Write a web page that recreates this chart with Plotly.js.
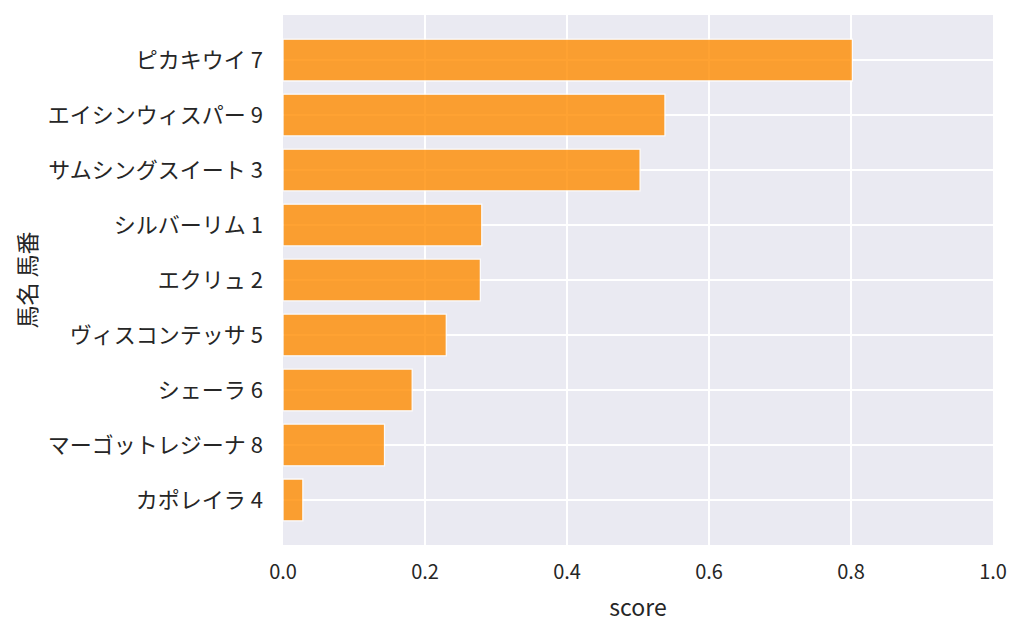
<!DOCTYPE html>
<html>
<head>
<meta charset="utf-8">
<script src="https://cdn.plot.ly/plotly-3.0.1.min.js"></script>
<style>html,body{margin:0;padding:0;background:#fff;}#chart{width:1024px;height:634px;}</style>
</head>
<body>
<div id="chart"></div>
<script>
const horseNames = ["ピカキウイ 7", "エイシンウィスパー 9", "サムシングスイート 3", "シルバーリム 1", "エクリュ 2", "ヴィスコンテッサ 5", "シェーラ 6", "マーゴットレジーナ 8", "カポレイラ 4"];
const scores = [0.802, 0.538, 0.503, 0.280, 0.278, 0.230, 0.182, 0.143, 0.028];
const xTickValues = [0, 0.2, 0.4, 0.6, 0.8, 1.0];
const xTickLabels = ["0.0", "0.2", "0.4", "0.6", "0.8", "1.0"];

const FONT = '"Noto Sans CJK JP", "Noto Sans", sans-serif';
const TXT = '#262626';

const trace = {
  type: 'bar',
  orientation: 'h',
  x: scores,
  y: horseNames,
  width: 0.76,
  opacity: 0.8,
  marker: {color: '#ff8c00', line: {color: '#ffffff', width: 1.3}},
  hoverinfo: 'x+y'
};

const layout = {
  width: 1024, height: 634,
  margin: {l: 283, r: 31, t: 15, b: 89},
  paper_bgcolor: '#ffffff',
  plot_bgcolor: '#eaeaf2',
  showlegend: false,
  font: {family: FONT, color: TXT, size: 22},
  xaxis: {
    range: [0, 1],
    tickvals: xTickValues,
    ticktext: xTickLabels,
    showgrid: true, gridcolor: '#ffffff', gridwidth: 1.5,
    zeroline: false, showline: false,
    ticks: '', ticklabelstandoff: 13,
    tickfont: {family: FONT, size: 20, color: TXT},
    title: {text: 'score', font: {family: FONT, size: 23, color: TXT}, standoff: 15},
    automargin: false, fixedrange: true
  },
  yaxis: {
    type: 'category',
    categoryorder: 'array', categoryarray: horseNames,
    range: [8.82, -0.82],
    showgrid: true, gridcolor: '#ffffff', gridwidth: 1.5,
    zeroline: false, showline: false,
    ticks: '', ticklabelstandoff: 19,
    tickfont: {family: FONT, size: 22, color: TXT},
    title: {text: '馬名 馬番', font: {family: FONT, size: 23, color: TXT}, standoff: 4},
    automargin: false, fixedrange: true
  }
};

Plotly.newPlot('chart', [trace], layout, {displayModeBar: false, staticPlot: true});
</script>
</body>
</html>
